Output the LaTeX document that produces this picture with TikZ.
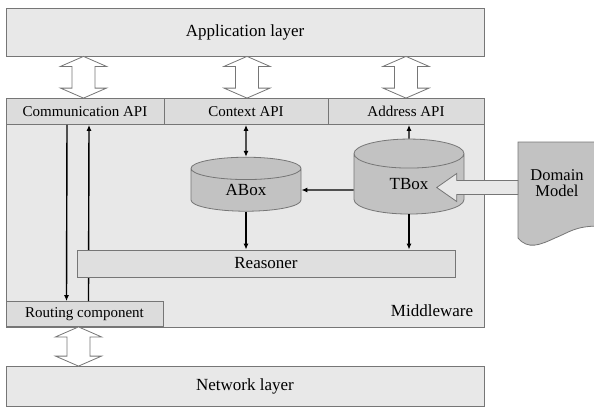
\documentclass[tikz,border=0pt]{standalone}
\usepackage{fontspec}
\setmainfont{Liberation Serif}
\newfontfamily\diagfont{Liberation Serif}
\usetikzlibrary{positioning,calc,shapes.geometric,arrows.meta}

\definecolor{lightfill}{HTML}{E8E8E8}
\definecolor{apifill}{HTML}{DCDCDC}
\definecolor{reasonfill}{HTML}{DFDFDF}
\definecolor{storefill}{HTML}{C2C2C2}
\definecolor{edgegray}{HTML}{767676}

\tikzset{
  layerbox/.style={draw=edgegray, fill=lightfill, line width=0.8pt, inner sep=0pt},
  apibox/.style={layerbox, fill=apifill, minimum height=26pt, font=\diagfont\fontsize{15}{17}\selectfont},
  store/.style={cylinder, shape border rotate=90, draw=edgegray, fill=storefill, line width=0.8pt, minimum width=110pt, inner sep=0pt},
  hollowedge/.style={draw=edgegray, fill=white, line width=0.8pt, line join=miter},
  link/.style={line width=1.4pt, -{Latex[length=6pt,width=5pt]}},
}

% hollow double arrow between two points on one vertical
\newcommand{\hollowlink}[2]{%
  \path[hollowedge] let \p1=#1, \p2=#2 in
    (\x1,\y1) -- ++(23pt,-10pt) -- ++(-11.5pt,0pt) -- (\x1+11.5pt,\y2+10pt) -- ++(11.5pt,0pt)
    -- (\x1,\y2) -- ++(-23pt,10pt) -- ++(11.5pt,0pt) -- (\x1-11.5pt,\y1-10pt) -- ++(-11.5pt,0pt) -- cycle;}

\begin{document}
\begin{tikzpicture}[x=1pt,y=-1pt,font=\diagfont\fontsize{17}{19}\selectfont]
\useasboundingbox (0,0) rectangle (594,408);

% layers
\node[layerbox, minimum width=478pt, minimum height=48pt] (app) at (245,32) {Application layer};
\node[layerbox, minimum width=478pt, minimum height=229pt] (mw) at (245,212.5) {};
\node (mwlabel) at (432,311) {Middleware};
\node[layerbox, minimum width=478pt, minimum height=40pt] (net) at (245,386.5) {Network layer};

% APIs
\node[apibox, minimum width=158pt] (commapi) at (85,111.5) {Communication API};
\node[apibox, minimum width=164pt] (ctxapi) at (246,111.5) {Context API};
\node[apibox, minimum width=156pt] (addrapi) at (406,111.5) {Address API};
\node[apibox, minimum width=157pt, minimum height=25pt] (routing) at (84.5,314) {Routing component};

% hollow arrows between layers
\hollowlink{([xshift=-1.5pt]app.south -| commapi)}{([xshift=-1.5pt]commapi.north)}
\hollowlink{([xshift=1pt]app.south -| ctxapi)}{([xshift=1pt]ctxapi.north)}
\hollowlink{(app.south -| addrapi)}{(addrapi.north)}
\hollowlink{([xshift=-6pt]routing.south)}{([xshift=-6pt]net.north -| routing)}

% routing links
\draw[link] ([xshift=-18pt]commapi.south) -- ([xshift=-18pt]routing.north);
\draw[link] ([xshift=4pt]routing.north) -- ([xshift=4pt]commapi.south);

% knowledge base
\node[layerbox, fill=reasonfill, minimum width=378pt, minimum height=27pt] (reasoner) at (266,263.5) {Reasoner};
\node[store, minimum height=54pt, aspect=0.55] (abox) at (246,190) {ABox};
\node[store, minimum height=75pt, aspect=0.75] (tbox) at (409,184) {TBox};

\draw[link, {Latex[length=6pt,width=5pt]}-{Latex[length=6pt,width=5pt]}] (ctxapi.south -| abox) -- (abox);
\draw[link] (tbox) -- (tbox |- addrapi.south);
\draw[link] (abox -| tbox.west) -- (abox);
\draw[link] (abox) -- (abox |- reasoner.north);
\draw[link] (tbox) -- (tbox |- reasoner.north);

% domain model
\draw[draw=edgegray, fill=storefill, line width=0.8pt] (518,142) -- (600,142) -- (600,226)
  .. controls (575,226) and (570,232) .. (555,238) .. controls (540,245) and (528,250) .. (518,238) -- cycle;
\node[align=center, font=\diagfont\fontsize{16.5}{16}\selectfont] (dm) at (557,183) {Domain\\Model};
\coordinate (dmedge) at (518,187.5);
\coordinate (dmtip) at (436.7,187.5);
\path[hollowedge, fill=lightfill] let \p1=(dmtip), \p2=(dmedge) in
  (\p1) -- ++(20pt,14pt) -- ++(0pt,-7pt) -- (\x2,\y1+7pt) -- (\x2,\y1-7pt) -- (\x1+20pt,\y1-7pt) -- ++(0pt,-7pt) -- cycle;
\end{tikzpicture}
\end{document}
